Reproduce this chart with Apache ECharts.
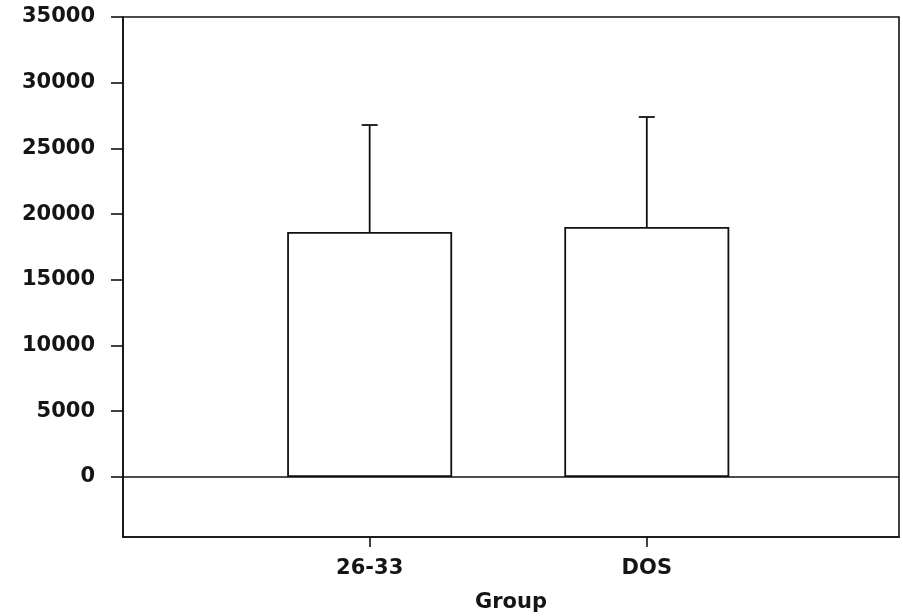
<!DOCTYPE html>
<html>
<head>
<meta charset="utf-8">
<script src="https://cdn.jsdelivr.net/npm/echarts@6/dist/echarts.min.js"></script>
<style>
html,body{margin:0;padding:0;background:#fff;}
#chart{width:903px;height:616px;}
</style>
</head>
<body>
<div id="chart"></div>
<script>
const categories = ['26-33', 'DOS'];
const means = [18640, 19020];
const upperErrors = [26780, 27390];
const yTicks = [0, 5000, 10000, 15000, 20000, 25000, 30000, 35000];
const xAxisTitle = 'Group';

const FONT = 'DejaVu Sans';
const chart = echarts.init(document.getElementById('chart'));

const barData = categories.map((c, i) => [i, means[i]]);
const errData = categories.map((c, i) => [i, means[i], upperErrors[i]]);

const textStyle = { fontFamily: FONT, fontSize: 21, fontWeight: 'bold', color: '#151515' };

chart.setOption({
  animation: false,
  backgroundColor: '#ffffff',
  grid: {
    left: 123, right: 4, top: 17, bottom: 79,
    outerBoundsMode: 'none',
    containLabel: false,
    show: true, borderColor: '#111', borderWidth: 1.6, backgroundColor: 'transparent'
  },
  xAxis: {
    type: 'value',
    min: -0.89, max: 1.91,
    name: xAxisTitle,
    nameLocation: 'middle',
    nameGap: 55,
    nameTextStyle: textStyle,
    axisLine: { onZero: false, show: true, lineStyle: { color: '#111', width: 1.6 } },
    axisTick: { show: true, inside: false, length: 10, customValues: [0, 1], lineStyle: { color: '#111', width: 1.6 } },
    axisLabel: Object.assign({
      customValues: [0, 1],
      formatter: v => categories[Math.round(v)] ?? '',
      margin: 21
    }, textStyle),
    splitLine: { show: false }
  },
  yAxis: {
    type: 'value',
    min: -4570, max: 35000,
    axisLine: { show: true, onZero: false, lineStyle: { color: '#111', width: 1.6 } },
    axisTick: { show: true, inside: false, length: 12, customValues: yTicks, lineStyle: { color: '#111', width: 1.6 } },
    axisLabel: Object.assign({
      customValues: yTicks,
      formatter: v => String(v),
      margin: 28
    }, textStyle),
    splitLine: { show: false }
  },
  series: [
    {
      type: 'bar',
      data: barData,
      barWidth: 165,
      itemStyle: { color: '#ffffff', borderColor: '#111', borderWidth: 1.8 },
      markLine: {
        silent: true,
        symbol: ['none', 'none'],
        label: { show: false },
        lineStyle: { color: '#111', width: 1.6, type: 'solid' },
        data: [{ yAxis: 0 }]
      },
      z: 2
    },
    {
      type: 'custom',
      data: errData,
      z: 3,
      renderItem: function (params, api) {
        const x = api.value(0);
        const lo = api.coord([x, api.value(1)]);
        const hi = api.coord([x, api.value(2)]);
        const cap = 8;
        const style = { stroke: '#111', lineWidth: 1.8 };
        return {
          type: 'group',
          children: [
            { type: 'line', shape: { x1: lo[0], y1: lo[1], x2: hi[0], y2: hi[1] }, style: style },
            { type: 'line', shape: { x1: hi[0] - cap, y1: hi[1], x2: hi[0] + cap, y2: hi[1] }, style: style }
          ]
        };
      }
    }
  ]
});
</script>
</body>
</html>
